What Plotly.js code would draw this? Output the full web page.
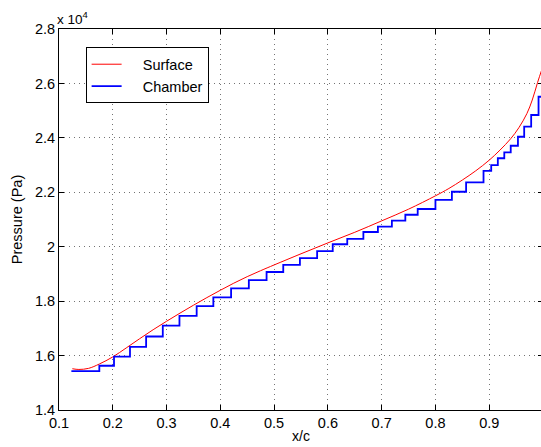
<!DOCTYPE html>
<html>
<head>
<meta charset="utf-8">
<script src="https://cdn.plot.ly/plotly-3.0.1.min.js"></script>
<style>
  html, body { margin: 0; padding: 0; overflow: hidden; background: #fff; }
  #chart { width: 543px; height: 447px; }
</style>
</head>
<body>
<div id="chart"></div>
<script>
// Chordwise position x/c
const surfaceX = [0.1248, 0.137, 0.155, 0.175, 0.2, 0.225, 0.25, 0.275, 0.3, 0.325,
                  0.35, 0.375, 0.4, 0.425, 0.45, 0.475, 0.5, 0.55, 0.6, 0.65,
                  0.7, 0.75, 0.8, 0.825, 0.85, 0.875, 0.9, 0.92, 0.94, 0.955,
                  0.97, 0.98, 0.99, 0.998];
// Surface pressure (x 10^4 Pa)
const surfaceP = [1.5516, 1.549, 1.553, 1.569, 1.595, 1.628, 1.662, 1.695, 1.726, 1.756,
                  1.785, 1.813, 1.840, 1.866, 1.890, 1.912, 1.933, 1.974, 2.014, 2.053,
                  2.095, 2.138, 2.187, 2.214, 2.245, 2.279, 2.318, 2.355, 2.397, 2.437,
                  2.489, 2.539, 2.604, 2.652];

// Chamber step edges (x/c) and chamber pressures (x 10^4 Pa)
const chamberX = [0.123, 0.175, 0.2023, 0.232, 0.262, 0.293, 0.324, 0.356, 0.387, 0.420,
                  0.453, 0.486, 0.517, 0.548, 0.580, 0.609, 0.636, 0.666, 0.693, 0.719,
                  0.744, 0.767, 0.800, 0.8306, 0.857, 0.8894, 0.9037, 0.916, 0.928, 0.940,
                  0.9534, 0.965, 0.978, 0.9917, 0.998];
const chamberP = [1.543, 1.5626, 1.596, 1.632, 1.670, 1.710, 1.746, 1.782, 1.814, 1.847,
                  1.8775, 1.907, 1.933, 1.958, 1.984, 2.009, 2.029, 2.054, 2.0735, 2.0955,
                  2.1175, 2.1385, 2.172, 2.202, 2.2366, 2.279, 2.300, 2.325, 2.347, 2.371,
                  2.404, 2.441, 2.484, 2.551, 2.551];

const seriesNames = ['Surface', 'Chamber'];

const xTicks = [0.1, 0.2, 0.3, 0.4, 0.5, 0.6, 0.7, 0.8, 0.9, 1];
const yTicks = [1.4, 1.6, 1.8, 2, 2.2, 2.4, 2.6, 2.8];

const family = 'Liberation Sans, Arial, Helvetica, sans-serif';
const font = { family: family, size: 14.5, color: '#000' };
// a little extra room between the legend swatch and its label
const pad = '\u00a0\u00a0\u00a0\u00a0';

const traces = [
  {
    x: surfaceX, y: surfaceP, name: pad + seriesNames[0], type: 'scatter', mode: 'lines',
    line: { color: '#ff0000', width: 1, shape: 'spline', smoothing: 1 }
  },
  {
    x: chamberX, y: chamberP, name: pad + seriesNames[1], type: 'scatter', mode: 'lines',
    line: { color: '#0000ff', width: 1.8, shape: 'hv' }
  }
];

const axisCommon = {
  showline: true, linecolor: '#000', linewidth: 1, mirror: 'ticks',
  ticks: 'inside', ticklen: 5, tickcolor: '#000', tickwidth: 1,
  showgrid: true, gridcolor: 'rgba(0,0,0,0.55)', gridwidth: 1, griddash: '1px,4px',
  zeroline: false, tickfont: font
};

const layout = {
  width: 543, height: 447,
  margin: { l: 59, r: 0, t: 29, b: 37 },
  paper_bgcolor: '#fff', plot_bgcolor: '#fff',
  font: font,
  showlegend: true,
  legend: {
    x: 0.055, y: 0.952, xanchor: 'left', yanchor: 'top',
    bgcolor: '#fff', bordercolor: '#000', borderwidth: 1,
    font: { family: family, size: 14.5, color: '#000' },
    tracegroupgap: 0
  },
  xaxis: Object.assign({}, axisCommon, {
    range: [0.1, 1.0], tickvals: xTicks, ticktext: xTicks.map(String),
    title: { text: 'x/c', font: { family: family, size: 14, color: '#000' }, standoff: 0 }
  }),
  yaxis: Object.assign({}, axisCommon, {
    range: [1.4, 2.8], tickvals: yTicks, ticktext: yTicks.map(String),
    title: { text: 'Pressure (Pa)', font: font, standoff: 8 }
  }),
  annotations: [
    {
      xref: 'paper', yref: 'paper', x: -0.008, y: 1.0, xanchor: 'left', yanchor: 'bottom',
      text: 'x 10<sup>4</sup>', showarrow: false,
      font: { family: family, size: 13.5, color: '#000' }
    }
  ]
};

Plotly.newPlot('chart', traces, layout, { displayModeBar: false, staticPlot: true });
</script>
</body>
</html>
